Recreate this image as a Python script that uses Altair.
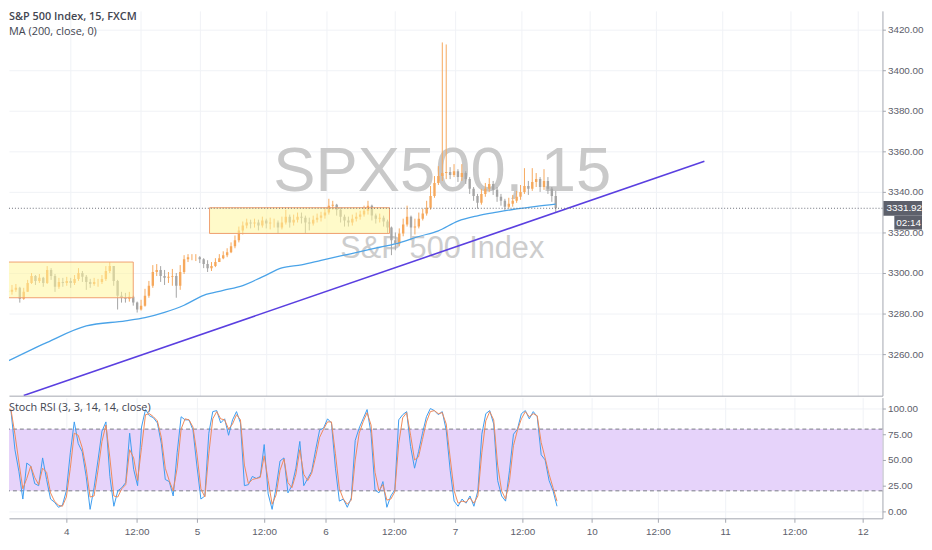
import altair as alt
import pandas as pd

# ---------------- data ----------------
first_open = 3291.2
close = [
3290.7, 3291.7, 3292.7, 3287.3, 3290.7, 3295.1, 3298.5, 3296.1, 3297.6, 3295.1,
3301.5, 3298.5, 3293.2, 3295.6, 3295.1, 3296.1, 3295.1, 3297.1, 3300.0, 3298.1,
3295.6, 3294.6, 3295.6, 3295.6, 3297.1, 3301.0, 3303.4, 3296.1, 3288.8, 3287.8,
3287.3, 3288.3, 3285.4, 3282.0, 3283.9, 3288.8, 3293.7, 3300.5, 3301.5, 3298.5,
3297.6, 3298.1, 3298.5, 3293.7, 3300.5, 3306.8, 3307.8, 3307.8, 3307.8, 3306.8,
3304.4, 3302.4, 3303.4, 3305.4, 3307.3, 3308.8, 3310.2, 3313.2, 3316.1, 3321.0,
3323.4, 3324.9, 3324.4, 3324.9, 3323.4, 3325.9, 3324.4, 3324.9, 3324.9, 3322.4,
3324.9, 3327.8, 3324.9, 3326.3, 3327.8, 3327.3, 3324.9, 3324.4, 3326.3, 3327.3,
3328.3, 3329.8, 3333.2, 3333.7, 3331.2, 3327.8, 3325.9, 3324.9, 3326.8, 3327.8,
3328.8, 3330.7, 3333.2, 3328.3, 3326.8, 3327.3, 3325.4, 3322.4, 3316.1, 3314.6,
3319.5, 3323.9, 3327.8, 3322.4, 3322.9, 3326.8, 3329.3, 3332.2, 3338.0, 3344.4,
3347.8, 3349.3, 3349.8, 3348.3, 3350.2, 3347.3, 3349.3, 3346.3, 3341.5, 3338.0,
3334.6, 3339.0, 3341.5, 3343.9, 3341.0, 3337.6, 3335.6, 3332.7, 3334.1, 3335.6,
3337.6, 3340.0, 3342.9, 3341.5, 3344.9, 3346.3, 3342.4, 3345.4, 3341.5, 3338.0,
3331.92]
high = [
3292.7, 3294.1, 3294.6, 3293.2, 3292.7, 3296.6, 3300.0, 3299.0, 3299.5, 3298.1,
3303.4, 3302.4, 3299.5, 3297.6, 3297.6, 3298.1, 3297.6, 3299.0, 3302.4, 3301.0,
3299.0, 3297.1, 3297.6, 3297.1, 3299.0, 3303.4, 3305.4, 3303.4, 3296.6, 3290.7,
3290.2, 3290.7, 3288.8, 3285.9, 3286.8, 3292.2, 3296.1, 3303.9, 3304.4, 3303.4,
3301.5, 3300.5, 3302.0, 3300.0, 3303.9, 3308.8, 3309.3, 3309.3, 3309.3, 3308.3,
3307.3, 3306.3, 3305.4, 3307.3, 3309.3, 3310.7, 3312.2, 3315.1, 3318.5, 3322.9,
3325.4, 3326.8, 3326.3, 3326.8, 3326.3, 3327.8, 3326.8, 3327.3, 3326.8, 3325.9,
3327.8, 3331.2, 3328.8, 3328.8, 3329.8, 3329.8, 3328.3, 3327.3, 3328.3, 3329.3,
3330.2, 3332.2, 3336.6, 3335.6, 3334.1, 3332.2, 3328.8, 3327.8, 3328.8, 3329.8,
3330.7, 3333.2, 3335.6, 3333.7, 3329.3, 3329.3, 3328.3, 3326.3, 3322.9, 3320.0,
3322.0, 3326.8, 3333.2, 3328.3, 3326.8, 3329.8, 3331.7, 3335.6, 3342.9, 3347.8,
3352.7, 3413.7, 3412.7, 3352.2, 3353.7, 3351.2, 3353.7, 3350.2, 3347.3, 3342.4,
3339.0, 3341.5, 3344.4, 3346.8, 3345.4, 3342.4, 3339.0, 3336.6, 3337.1, 3338.5,
3340.5, 3343.4, 3351.7, 3345.4, 3351.7, 3349.3, 3347.3, 3351.2, 3347.3, 3342.4,
3340.5]
low = [
3288.3, 3289.3, 3290.7, 3285.4, 3286.8, 3290.7, 3294.6, 3294.1, 3295.1, 3293.2,
3294.6, 3296.6, 3290.7, 3292.2, 3293.2, 3293.7, 3292.7, 3294.1, 3296.1, 3295.6,
3291.7, 3292.7, 3293.7, 3293.2, 3294.6, 3296.1, 3300.0, 3293.7, 3282.0, 3285.4,
3285.4, 3285.9, 3283.9, 3280.5, 3281.5, 3283.4, 3287.8, 3292.7, 3298.5, 3295.6,
3294.1, 3295.1, 3293.7, 3287.8, 3291.7, 3299.5, 3305.4, 3306.3, 3305.9, 3304.9,
3302.4, 3300.5, 3301.0, 3302.9, 3305.4, 3306.8, 3307.8, 3309.8, 3312.2, 3315.1,
3319.0, 3322.0, 3322.0, 3322.4, 3321.0, 3322.4, 3322.0, 3321.5, 3322.4, 3319.5,
3321.5, 3323.9, 3322.4, 3323.4, 3324.9, 3324.4, 3319.5, 3321.0, 3323.4, 3324.9,
3325.4, 3326.8, 3328.8, 3331.2, 3328.3, 3324.9, 3322.9, 3322.9, 3323.4, 3325.4,
3326.3, 3327.8, 3328.8, 3325.9, 3324.4, 3324.9, 3322.9, 3319.5, 3308.8, 3311.2,
3313.2, 3318.1, 3322.9, 3316.1, 3319.0, 3322.0, 3325.9, 3328.3, 3331.2, 3337.1,
3343.4, 3345.4, 3346.3, 3346.3, 3347.3, 3344.9, 3345.4, 3343.9, 3339.0, 3335.6,
3331.7, 3333.7, 3337.6, 3340.0, 3338.5, 3335.1, 3333.2, 3330.7, 3331.7, 3332.7,
3334.6, 3336.1, 3339.0, 3338.5, 3340.5, 3342.4, 3340.0, 3341.0, 3339.0, 3335.1,
3329.8]

ma_idx = [0, 10, 20, 30, 35, 40, 45, 50, 55, 60, 65, 70, 75, 80, 85, 90, 95,
          100, 105, 110, 115, 120, 125, 130, 135, 140]
ma_val = [3256.6, 3265.8, 3273.9, 3276.4, 3278.0, 3280.6, 3284.1, 3289.0, 3291.4,
          3293.8, 3298.1, 3302.5, 3304.0, 3306.2, 3308.4, 3310.5, 3312.7, 3314.9,
          3318.0, 3320.8, 3325.6, 3328.2, 3330.0, 3331.6, 3332.9, 3334.0]

trend_idx = [4, 178]
trend_val = [3239.6, 3355.1]

box_x1 = [-0.5, 51.5]
box_x2 = [32.0, 97.5]
box_top = [3305.4, 3332.2]
box_bot = [3287.8, 3319.5]

stoch_k = [100, 100, 98, 60, 39, 12, 47, 44, 27, 25,
           52, 31, 12, 9, 4, 6, 20, 57, 87, 66,
           58, 34, 2, 23, 50, 78, 87, 34, 5, 20,
           23, 28, 76, 41, 25, 82, 99, 93, 91, 86,
           66, 31, 29, 15, 57, 92, 89, 89, 79, 44,
           12, 15, 76, 97, 98, 86, 90, 74, 89, 97,
           86, 25, 26, 34, 32, 34, 65, 17, 2, 23,
           49, 52, 18, 25, 42, 68, 25, 32, 39, 60,
           79, 81, 90, 86, 42, 10, 12, 4, 13, 69,
           81, 90, 99, 76, 21, 18, 29, 4, 15, 21,
           89, 94, 97, 63, 42, 58, 76, 92, 100, 98,
           94, 97, 79, 40, 10, 5, 12, 8, 15, 5,
           20, 75, 95, 98, 85, 30, 15, 10, 40, 75,
           80, 95, 98, 90, 97, 92, 55, 50, 30, 20,
           5]
stoch_d = [100, 100, 99, 75, 48, 22, 32, 44, 33, 26,
           42, 38, 18, 10, 6, 5, 14, 42, 76, 74,
           62, 42, 14, 15, 40, 68, 84, 52, 15, 14,
           22, 26, 60, 52, 30, 62, 94, 95, 92, 88,
           72, 42, 30, 20, 42, 80, 90, 89, 82, 56,
           22, 14, 56, 90, 97, 90, 89, 80, 85, 94,
           89, 45, 27, 31, 32, 33, 54, 30, 7, 16,
           40, 51, 28, 23, 36, 60, 36, 30, 37, 53,
           72, 80, 87, 87, 56, 22, 12, 7, 11, 50,
           76, 87, 96, 84, 38, 20, 26, 11, 12, 19,
           66, 91, 96, 74, 50, 53, 70, 87, 97, 98,
           95, 96, 85, 52, 20, 8, 10, 9, 13, 8,
           15, 57, 88, 97, 89, 45, 20, 12, 30, 64,
           79, 90, 97, 92, 95, 93, 67, 52, 36, 23,
           10]

tick_pos = [16, 33.75, 49, 66, 81.5, 98.75, 114.25, 131.25, 148.75, 165.5, 182.5, 200, 217.25]
tick_lab = ["4", "12:00", "5", "12:00", "6", "12:00", "7", "12:00", "10", "12:00", "11", "12:00", "12"]
price_ticks = [3260, 3280, 3300, 3320, 3340, 3360, 3380, 3400, 3420]
stoch_ticks = [0, 25, 50, 75, 100]
band_lo, band_hi = 20, 80

last_price = 3331.92
timer_text = "02:14"
timer_box = [3328.2, 3321.4]

title_main = "S&P 500 Index, 15, FXCM"
title_ma = "MA (200, close, 0)"
title_stoch = "Stoch RSI (3, 3, 14, 14, close)"
wm_big = "SPX500, 15"
wm_small = "S&P 500 Index"

# ---------------- layout / style ----------------
W, H1, H2 = 883, 389, 122
X_DOM = [1.5, 1.5 + W / 4.0]
P_DOM = [3239.51, 3429.27]
S_DOM = [-6.73, 110.58]

GRID = "#f0f2f6"
AXC = "#a3a6af"
LABC = "#5d606b"
UP = "#f6a85c"
DN = "#a5a5a5"
FONT_AX = "Liberation Sans, Arial, sans-serif"
FONT_UI = "Open Sans, Roboto, sans-serif"
FONT_WM = "Liberation Sans, Arial, sans-serif"

label_expr = "''"
for pos, lab in reversed(list(zip(tick_pos, tick_lab))):
    label_expr = f"datum.value == {pos} ? '{lab}' : ({label_expr})"

xs = alt.Scale(domain=X_DOM, nice=False, zero=False)
ps = alt.Scale(domain=P_DOM, nice=False, zero=False)
ss = alt.Scale(domain=S_DOM, nice=False, zero=False)

x_axis_top = alt.Axis(values=tick_pos, labels=False, ticks=False, domain=True,
                      domainColor=AXC, grid=True, gridColor=GRID, title=None)
x_axis_bot = alt.Axis(values=tick_pos, labelExpr=label_expr, tickSize=4, tickColor=AXC,
                      domainColor=AXC, grid=True, gridColor=GRID, title=None,
                      labelFont=FONT_AX, labelFontSize=10, labelColor=LABC,
                      labelPadding=4, labelFlush=False)
p_axis = alt.Axis(orient="right", values=price_ticks, format=".2f", tickSize=3,
                  tickColor=AXC, domainColor=AXC, grid=True, gridColor=GRID, title=None,
                  labelFont=FONT_AX, labelFontSize=10, labelColor=LABC, labelPadding=2)
s_axis = alt.Axis(orient="right", values=stoch_ticks, format=".2f", tickSize=3,
                  tickColor=AXC, domainColor=AXC, grid=True, gridColor=GRID, title=None,
                  labelFont=FONT_AX, labelFontSize=10, labelColor=LABC, labelPadding=2)


def XT(f):
    return alt.X(f"{f}:Q", scale=xs, axis=x_axis_top)


def XB(f):
    return alt.X(f"{f}:Q", scale=xs, axis=x_axis_bot)


def PY(f):
    return alt.Y(f"{f}:Q", scale=ps, axis=p_axis)


def SY(f):
    return alt.Y(f"{f}:Q", scale=ss, axis=s_axis)


# ---------------- price pane ----------------
n = len(close)
opens = [first_open] + close[:-1]
cd = pd.DataFrame({"i": list(range(n)), "o": opens, "c": close, "h": high, "l": low})
cd["h"] = cd[["h", "o", "c"]].max(axis=1)
cd["l"] = cd[["l", "o", "c"]].min(axis=1)
cd["dir"] = ["up" if c >= o else "dn" for o, c in zip(cd["o"], cd["c"])]
col = alt.Color("dir:N", scale=alt.Scale(domain=["up", "dn"], range=[UP, DN]), legend=None)

wm1 = alt.Chart(pd.DataFrame({"t": [wm_big]})).mark_text(
    font=FONT_WM, fontSize=64, color="#c9c9c9", align="center", baseline="alphabetic"
).encode(x=alt.value(438), y=alt.value(182), text="t:N")
wm2 = alt.Chart(pd.DataFrame({"t": [wm_small]})).mark_text(
    font=FONT_WM, fontSize=31, color="#cdcdcd", align="center", baseline="alphabetic"
).encode(x=alt.value(438), y=alt.value(250), text="t:N")

wick = alt.Chart(cd).mark_rule(clip=True, strokeWidth=1).encode(
    x=XT("i"), y=PY("l"), y2=alt.Y2("h:Q"), color=col)
body = alt.Chart(cd).mark_bar(clip=True, size=2.4).encode(
    x=XT("i"), y=PY("o"), y2=alt.Y2("c:Q"), color=col)

bd = pd.DataFrame({"i": box_x1, "i2": box_x2, "p": box_top, "p2": box_bot})
boxes = alt.Chart(bd).mark_rect(clip=True, fill="#fff59d", fillOpacity=0.55,
                                stroke="#f0a070", strokeWidth=1).encode(
    x=XT("i"), x2=alt.X2("i2:Q"), y=PY("p"), y2=alt.Y2("p2:Q"))

ma = alt.Chart(pd.DataFrame({"i": ma_idx, "p": ma_val})).mark_line(
    clip=True, color="#4aa3e8", strokeWidth=1.3, interpolate="monotone").encode(
    x=XT("i"), y=PY("p"))
trend = alt.Chart(pd.DataFrame({"i": trend_idx, "p": trend_val})).mark_line(
    clip=True, color="#5a3fe0", strokeWidth=1.6).encode(x=XT("i"), y=PY("p"))

lp = pd.DataFrame({"p": [last_price], "t": [f"{last_price:.2f}"],
                   "p_hi": [last_price + 3.6], "p_lo": [last_price - 3.7]})
lastline = alt.Chart(lp).mark_rule(color="#6a6d78", strokeDash=[1, 2], strokeWidth=1).encode(y=PY("p"))
pbox = alt.Chart(lp).mark_rect(color="#5d606b").encode(
    x=alt.value(W + 1), x2=alt.value(W + 40), y=PY("p_hi"), y2=alt.Y2("p_lo:Q"))
ptext = alt.Chart(lp).mark_text(font=FONT_AX, fontSize=10, color="white", align="left",
                                baseline="middle").encode(x=alt.value(W + 4), y=PY("p"), text="t:N")
td = pd.DataFrame({"p": [timer_box[0]], "p2": [timer_box[1]], "pm": [(timer_box[0] + timer_box[1]) / 2],
                   "t": [timer_text]})
tbox = alt.Chart(td).mark_rect(color="#5d606b").encode(
    x=alt.value(W + 12), x2=alt.value(W + 40), y=PY("p"), y2=alt.Y2("p2:Q"))
ttext = alt.Chart(td).mark_text(font=FONT_AX, fontSize=10, color="white", align="left",
                                baseline="middle").encode(x=alt.value(W + 14), y=PY("pm"), text="t:N")

leg1 = alt.Chart(pd.DataFrame({"t": [title_main]})).mark_text(
    font=FONT_UI, fontSize=11, fontWeight=600, color="#434651", align="left", baseline="top"
).encode(x=alt.value(0), y=alt.value(0), text="t:N")
leg2 = alt.Chart(pd.DataFrame({"t": [title_ma]})).mark_text(
    font=FONT_UI, fontSize=11, color="#434651", align="left", baseline="top"
).encode(x=alt.value(0), y=alt.value(15), text="t:N")

price = alt.layer(wm1, wm2, wick, body, boxes, ma, trend, lastline, leg1, leg2,
                  pbox, ptext, tbox, ttext).properties(width=W, height=H1)

# ---------------- stoch pane ----------------
sd = pd.DataFrame({"i": list(range(len(stoch_k))), "k": stoch_k, "d": stoch_d})
band = alt.Chart(pd.DataFrame({"lo": [band_lo], "hi": [band_hi]})).mark_rect(
    color="#e6d3fa").encode(x=alt.value(0), x2=alt.value(W), y=SY("hi"), y2=alt.Y2("lo:Q"))
bl = alt.Chart(pd.DataFrame({"v": [band_lo, band_hi]})).mark_rule(
    color="#787b86", strokeDash=[4, 3], strokeWidth=1).encode(y=SY("v"))
kline = alt.Chart(sd).mark_line(clip=True, color="#3d9df0", strokeWidth=1).encode(x=XB("i"), y=SY("k"))
dline = alt.Chart(sd).mark_line(clip=True, color="#ef8a5a", strokeWidth=1).encode(x=XB("i"), y=SY("d"))
leg3 = alt.Chart(pd.DataFrame({"t": [title_stoch]})).mark_text(
    font=FONT_UI, fontSize=11, color="#434651", align="left", baseline="middle"
).encode(x=alt.value(0), y=alt.value(11), text="t:N")

stoch = alt.layer(band, bl, kline, dline, leg3).properties(width=W, height=H2)

chart = alt.vconcat(price, stoch, spacing=2).properties(
    padding=0, background="white").configure_view(strokeWidth=0)

chart.save("out.html", embed_options={"renderer": "svg", "actions": False})
